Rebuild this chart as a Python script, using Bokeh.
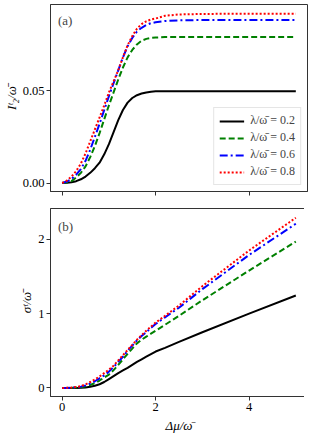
from bokeh.plotting import figure
from bokeh.layouts import column
from bokeh.models import Range1d, FixedTicker, NumeralTickFormatter, CustomJSTickFormatter, Legend, LegendItem, Label
from bokeh.embed import file_html
from bokeh.resources import INLINE

# ---- data ----
x = [0, 0.1, 0.2, 0.3, 0.4, 0.5, 0.6, 0.7, 0.8, 0.9, 1.0, 1.1, 1.2, 1.3, 1.4, 1.5, 1.6, 1.7, 1.8, 1.9,
     2.0, 2.2, 2.5, 3.0, 4.0, 5.0]

lam_labels = ["λ/ω̄ = 0.2", "λ/ω̄ = 0.4", "λ/ω̄ = 0.6", "λ/ω̄ = 0.8"]

I2_02 = [0, 0.0001, 0.0004, 0.001, 0.002, 0.0035, 0.0055, 0.008, 0.011, 0.0155, 0.021, 0.0275, 0.034, 0.0395,
         0.0435, 0.046, 0.0475, 0.0484, 0.049, 0.0494, 0.0496, 0.0497, 0.0497, 0.0497, 0.0497, 0.0497]
I2_04 = [0, 0.0003, 0.001, 0.003, 0.0055, 0.009, 0.014, 0.02, 0.027, 0.0345, 0.042, 0.049, 0.056, 0.0625,
         0.068, 0.072, 0.075, 0.077, 0.078, 0.0785, 0.0787, 0.079, 0.079, 0.079, 0.079, 0.079]
I2_06 = [0, 0.0008, 0.0022, 0.0045, 0.0075, 0.012, 0.018, 0.025, 0.032, 0.0395, 0.047, 0.054, 0.061, 0.068,
         0.074, 0.0785, 0.082, 0.084, 0.0855, 0.0865, 0.087, 0.0877, 0.088, 0.0882, 0.0882, 0.0882]
I2_08 = [0, 0.0013, 0.0035, 0.0065, 0.0105, 0.016, 0.0225, 0.029, 0.0355, 0.042, 0.049, 0.055, 0.061, 0.068,
         0.0745, 0.0795, 0.0835, 0.086, 0.0875, 0.0885, 0.089, 0.0905, 0.0912, 0.0915, 0.0916, 0.0916]

sig_02 = [0, 0.0, 0.0, 0.001, 0.003, 0.007, 0.015, 0.03, 0.05, 0.08, 0.12, 0.16, 0.2, 0.235,
          0.27, 0.31, 0.35, 0.385, 0.42, 0.455, 0.49, 0.54, 0.62, 0.75, 1.0, 1.244]
sig_04 = [0, 0.001, 0.002, 0.005, 0.01, 0.022, 0.04, 0.065, 0.1, 0.14, 0.18, 0.24, 0.31, 0.385,
          0.46, 0.53, 0.6, 0.65, 0.69, 0.73, 0.77, 0.85, 0.97, 1.18, 1.58, 1.97]
sig_06 = [0, 0.001, 0.003, 0.008, 0.018, 0.035, 0.06, 0.09, 0.13, 0.17, 0.22, 0.28, 0.35, 0.42,
          0.5, 0.57, 0.64, 0.7, 0.75, 0.81, 0.86, 0.95, 1.08, 1.33, 1.79, 2.21]
sig_08 = [0, 0.002, 0.005, 0.012, 0.025, 0.048, 0.08, 0.115, 0.155, 0.2, 0.245, 0.3, 0.37, 0.44,
          0.51, 0.58, 0.65, 0.71, 0.77, 0.825, 0.88, 0.97, 1.11, 1.37, 1.85, 2.29]

x_ticks = [0, 2, 4]
y1_ticks = [0.0, 0.05]
y2_ticks = [0, 1, 2]

# ---- styles ----
colors = ["black", "#008000", "#0000ff", "#ff0000"]
dashes = ["solid", "6 3", "8 3 2 3", "2 2"]
FONT = "Liberation Serif"
FRAME = "#333333"


def style(p):
    p.xgrid.visible = False
    p.ygrid.visible = False
    p.outline_line_color = FRAME
    p.outline_line_width = 1
    for ax in p.xaxis + p.yaxis:
        ax.major_label_text_font = FONT
        ax.major_label_text_font_size = "12.5px"
        ax.major_label_text_color = "black"
        ax.axis_label_text_font = FONT
        ax.axis_label_text_font_size = "13px"
        ax.axis_label_text_font_style = "italic"
        ax.axis_label_text_color = "black"
        ax.minor_tick_line_color = None
        ax.major_tick_out = 4
        ax.major_tick_in = 0
        ax.major_label_standoff = 2
        ax.axis_label_standoff = 1
        ax.axis_line_color = FRAME
        ax.major_tick_line_color = FRAME


p1 = figure(frame_width=257, frame_height=187, min_border_left=42, min_border_right=5,
            min_border_top=1, min_border_bottom=10, output_backend="svg", toolbar_location=None,
            x_range=Range1d(-0.25, 5.25), y_range=Range1d(-0.0046, 0.0966))
p2 = figure(frame_width=257, frame_height=188, min_border_left=42, min_border_right=5,
            min_border_top=7, min_border_bottom=33, output_backend="svg", toolbar_location=None,
            x_range=Range1d(-0.25, 5.25), y_range=Range1d(-0.115, 2.415))

items = []
for ys, c, d, lab in zip([I2_02, I2_04, I2_06, I2_08], colors, dashes, lam_labels):
    r = p1.line(x, ys, line_color=c, line_dash=d, line_width=2)
    items.append(LegendItem(label=lab, renderers=[r]))
for ys, c, d in zip([sig_02, sig_04, sig_06, sig_08], colors, dashes):
    p2.line(x, ys, line_color=c, line_dash=d, line_width=2)

style(p1)
style(p2)

p1.xaxis.ticker = FixedTicker(ticks=x_ticks)
p1.xaxis.formatter = CustomJSTickFormatter(code="return ''")
p1.yaxis.ticker = FixedTicker(ticks=y1_ticks)
p1.yaxis.formatter = NumeralTickFormatter(format="0.00")
p1.yaxis.axis_label = "Iᵗ₂/ω̄"

p2.xaxis.ticker = FixedTicker(ticks=x_ticks)
p2.xaxis.formatter = NumeralTickFormatter(format="0")
p2.yaxis.ticker = FixedTicker(ticks=y2_ticks)
p2.yaxis.formatter = NumeralTickFormatter(format="0")
p2.yaxis.axis_label = "σᵗ/ω̄"
p2.xaxis.axis_label = "Δμ/ω̄"
p2.xaxis.axis_label_standoff = 4

leg = Legend(items=items, location="bottom_right", margin=6, padding=5, spacing=2,
             glyph_width=25, glyph_height=14, label_height=14, label_standoff=6,
             label_text_font=FONT, label_text_font_size="12px",
             border_line_color="#cccccc", border_line_width=1, background_fill_alpha=0.9)
p1.add_layout(leg)

p1.add_layout(Label(x=-0.09, y=0.092, text="(a)", text_font=FONT, text_font_size="13px",
                    text_baseline="top", text_align="left"))
p2.add_layout(Label(x=-0.09, y=2.28, text="(b)", text_font=FONT, text_font_size="13px",
                    text_baseline="top", text_align="left"))

layout = column(p1, p2, margin=(3, 0, -10, 0))
open("out.html", "w").write(file_html(layout, INLINE))
